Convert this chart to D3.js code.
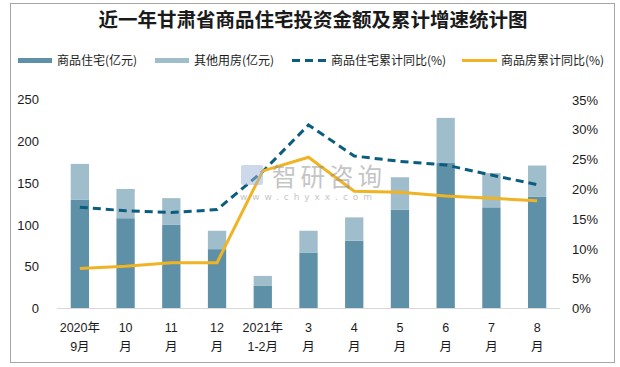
<!DOCTYPE html>
<html><head><meta charset="utf-8">
<script src="https://cdn.jsdelivr.net/npm/d3@7/dist/d3.min.js"></script>
<style>body{margin:0;background:#fff;}svg{display:block;}</style>
</head><body>
<script>
const categories = ["2020年\n9月","10\n月","11\n月","12\n月","2021年\n1-2月","3\n月","4\n月","5\n月","6\n月","7\n月","8\n月"];
const residential = [130,108,100,71,27,67,81,118,174,121,134];
const otherUse = [43,35,32,22,12,26,28,39,54,41,37];
const resYoY = [17.0,16.4,16.1,16.6,23.0,30.8,25.6,24.7,24.1,22.4,20.8];
const totalYoY = [6.7,7.1,7.7,7.7,23.1,25.4,19.7,19.5,18.9,18.5,18.1];
const leftTicks = [0,50,100,150,200,250];
const rightTicks = [0,5,10,15,20,25,30,35];
const title = "近一年甘肃省商品住宅投资金额及累计增速统计图";
const legendItems = [
  {label:"商品住宅(亿元)", type:"bar", color:"#5E91A8", x:18},
  {label:"其他用房(亿元)", type:"bar", color:"#A0BDCB", x:155},
  {label:"商品住宅累计同比(%)", type:"dash", color:"#0B5D7F", x:292},
  {label:"商品房累计同比(%)", type:"line", color:"#F0B323", x:462}
];

const W=620,H=367;
const svg=d3.select("body").append("svg").attr("width",W).attr("height",H);
svg.append("rect").attr("x",10.5).attr("y",3.5).attr("width",604).attr("height",359)
  .attr("fill","#fff").attr("stroke","#A6A6A6").attr("stroke-width",1);

svg.append("text").attr("x",313).attr("y",27).attr("text-anchor","middle")
  .attr("font-family","'Noto Sans CJK SC'").attr("font-weight","bold").attr("font-size",19.5)
  .attr("fill","#1a1a1a").text(title);

const lg=svg.append("g").attr("font-family","'Noto Sans CJK SC'").attr("font-size",12).attr("fill","#1a1a1a");
legendItems.forEach(d=>{
  if(d.type==="bar") lg.append("rect").attr("x",d.x).attr("y",58).attr("width",34).attr("height",5).attr("fill",d.color);
  else lg.append("line").attr("x1",d.x).attr("x2",d.x+35).attr("y1",60.5).attr("y2",60.5)
    .attr("stroke",d.color).attr("stroke-width",3).attr("stroke-dasharray",d.type==="dash"?"8,5":null);
  lg.append("text").attr("x",d.x+39).attr("y",65).text(d.label);
});

const x=d3.scaleBand().domain(categories).range([57,560]).paddingInner(0.6).paddingOuter(0.3);
const xc=d=>x(d)+x.bandwidth()/2;
const yL=d3.scaleLinear().domain([0,250]).range([308.5,99.5]);
const yR=d3.scaleLinear().domain([0,35]).range([308.5,100]);

// bars
const g=svg.append("g");
categories.forEach((c,i)=>{
  g.append("rect").attr("x",x(c)).attr("width",x.bandwidth()).attr("y",yL(residential[i])).attr("height",yL(0)-yL(residential[i])).attr("fill","#5E91A8");
  g.append("rect").attr("x",x(c)).attr("width",x.bandwidth()).attr("y",yL(residential[i]+otherUse[i])).attr("height",yL(residential[i])-yL(residential[i]+otherUse[i])).attr("fill","#A0BDCB");
});

// axis baseline
svg.append("line").attr("x1",57).attr("x2",560).attr("y1",308.5).attr("y2",308.5).attr("stroke","#D9D9D9").attr("stroke-width",1);

// left axis
const la=svg.append("g").attr("transform","translate(39,0)").call(d3.axisLeft(yL).tickValues(leftTicks).tickSize(0).tickPadding(0));
la.select(".domain").remove();
la.selectAll("text").attr("font-family","'Liberation Sans'").attr("font-size",13).attr("fill","#1a1a1a");
// right axis
const ra=svg.append("g").attr("transform","translate(572,0)").call(d3.axisRight(yR).tickValues(rightTicks).tickSize(0).tickPadding(0).tickFormat(d=>d+"%"));
ra.select(".domain").remove();
ra.selectAll("text").attr("font-family","'Liberation Sans'").attr("font-size",13).attr("fill","#1a1a1a");

// x labels
const xl=svg.append("g").attr("font-family","'Liberation Sans','Noto Sans CJK SC'").attr("font-size",12.5).attr("fill","#1a1a1a").attr("text-anchor","middle");
categories.forEach(c=>{
  const parts=c.split("\n");
  const t=xl.append("text").attr("x",xc(c)).attr("y",332);
  t.append("tspan").attr("x",xc(c)).attr("dy",0).text(parts[0]);
  t.append("tspan").attr("x",xc(c)).attr("dy",19).text(parts[1]);
});

// lines
const line=d3.line().x((d,i)=>xc(categories[i])).y(d=>yR(d));
svg.append("path").datum(resYoY).attr("d",line).attr("fill","none").attr("stroke","#0B5D7F").attr("stroke-width",3).attr("stroke-dasharray","8,5");
svg.append("path").datum(totalYoY).attr("d",line).attr("fill","none").attr("stroke","#F0B323").attr("stroke-width",3);

// watermark (semi-transparent, on top)
const wm=svg.append("g").attr("opacity",0.5);
wm.append("rect").attr("x",241).attr("y",165).attr("width",22).attr("height",20).attr("fill","#9DB3D6").attr("rx",2);
wm.append("text").attr("x",272).attr("y",186).attr("font-family","'Noto Sans CJK SC'").attr("font-size",24.5)
  .attr("fill","#8c8c8c").attr("textLength",110).attr("lengthAdjust","spacing").text("智研咨询");
wm.append("text").attr("x",240).attr("y",200).attr("font-family","'DejaVu Sans'").attr("font-size",9)
  .attr("fill","#8c8c8c").attr("textLength",132).attr("lengthAdjust","spacing").text("www.chyxx.com");
</script>
</body></html>
